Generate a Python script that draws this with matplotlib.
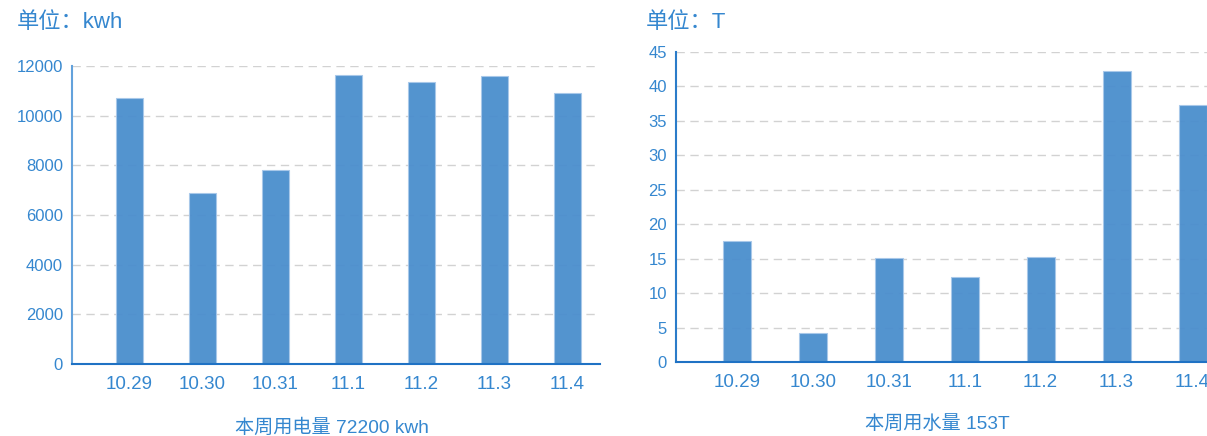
import matplotlib
matplotlib.use("Agg")
import matplotlib.pyplot as plt
import numpy as np

categories = ["10.29", "10.30", "10.31", "11.1", "11.2", "11.3", "11.4"]
electricity = [10700, 6900, 7800, 11650, 11350, 11600, 10900]
water = [17.6, 4.2, 15.1, 12.4, 15.2, 42.2, 37.3]
elec_ticks = [0, 2000, 4000, 6000, 8000, 10000, 12000]
water_ticks = [0, 5, 10, 15, 20, 25, 30, 35, 40, 45]
elec_unit = "单位：kwh"
water_unit = "单位：T"
elec_caption = "本周用电量 72200 kwh"
water_caption = "本周用水量 153T"

FONT = ["Liberation Sans", "Noto Sans CJK SC", "DejaVu Sans"]
plt.rcParams["font.family"] = FONT

TEXT = "#3587cf"
BAR = "#4a8ecd"
AXIS = "#1f72c4"
GRID = "#d2d2d2"

W, H = 1207, 436
fig = plt.figure(figsize=(W / 100, H / 100), dpi=100)

def px_axes(left, right, top, bottom):
    return fig.add_axes([left / W, 1 - bottom / H, (right - left) / W, (bottom - top) / H])

def style(ax, ticks, ymax, xl, xr, yaxis_color):
    x = np.arange(len(categories))
    ax.set_xlim(xl, xr)
    ax.set_ylim(0, ymax)
    ax.set_yticks(ticks)
    ax.set_yticklabels([str(t) for t in ticks])
    ax.set_xticks(x)
    ax.set_xticklabels(categories)
    ax.tick_params(axis="both", length=0, colors=TEXT)
    ax.tick_params(axis="y", labelsize=12, pad=6.5)
    ax.tick_params(axis="x", labelsize=13.5, pad=8.5)
    for s in ["top", "right"]:
        ax.spines[s].set_visible(False)
    ax.spines["left"].set_color(yaxis_color)
    ax.spines["left"].set_linewidth(1.5)
    ax.spines["bottom"].set_color(AXIS)
    ax.spines["bottom"].set_linewidth(1.5)
    ax.set_axisbelow(True)
    ax.yaxis.grid(True, color=GRID, linestyle=(0, (6, 4)), linewidth=1)
    ax.xaxis.grid(False)

x = np.arange(len(categories))

# left chart: electricity
ax1 = px_axes(72, 600, 66, 364)
ax1.bar(x, electricity, width=0.37, color=BAR, alpha=0.95,
        edgecolor="#a8c8ea", linewidth=0.8)
style(ax1, elec_ticks, 12000, -0.788, 6.445, "#63a2dc")

# right chart: water
ax2 = px_axes(676, 1207, 52, 362)
ax2.bar(x, water, width=0.37, color=BAR, alpha=0.95,
        edgecolor="#a8c8ea", linewidth=0.8)
style(ax2, water_ticks, 45, -0.80, 6.19, "#2b7cc9")

fig.text(17 / W, 1 - 23 / H, elec_unit, color=TEXT, fontsize=16, va="center", ha="left")
fig.text(646 / W, 1 - 23 / H, water_unit, color=TEXT, fontsize=16, va="center", ha="left")
fig.text(332 / W, 1 - 428 / H, elec_caption, color=TEXT, fontsize=13.8, va="center", ha="center")
fig.text(937 / W, 1 - 425 / H, water_caption, color=TEXT, fontsize=13.8, va="center", ha="center")

fig.savefig("out.png", dpi=100)
